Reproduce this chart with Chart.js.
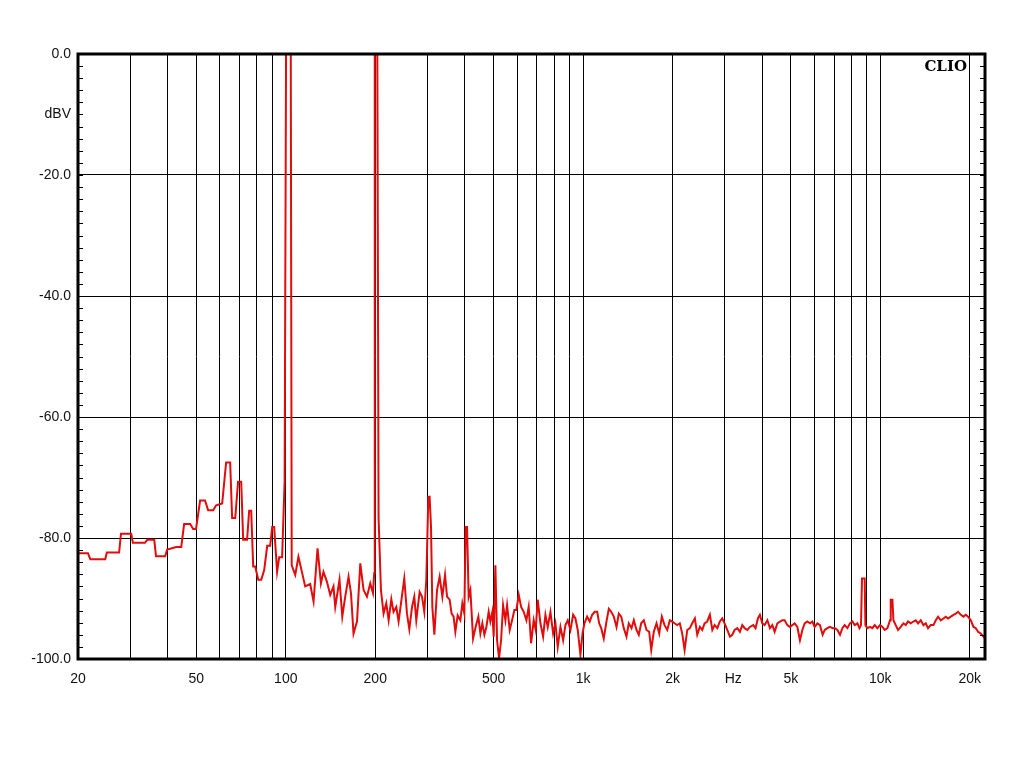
<!DOCTYPE html>
<html>
<head>
<meta charset="utf-8">
<title>CLIO spectrum</title>
<script src="https://cdn.jsdelivr.net/npm/chart.js@4.4.1/dist/chart.umd.min.js"></script>
<style>
  html, body { margin: 0; padding: 0; background: #fff; }
  #spectrumChart { display: block; }
</style>
</head>
<body>
<canvas id="spectrumChart" width="1024" height="768"></canvas>
<script>
// Frequency axis (Hz): grid lines and labels
const freqGrid = [20, 30, 40, 50, 60, 70, 80, 90, 100, 200, 300, 400, 500, 600, 700, 800, 900,
    1000, 2000, 3000, 3200, 4000, 5000, 6000, 7000, 8000, 9000, 10000, 20000];
const freqLabels = { 20: '20', 50: '50', 100: '100', 200: '200', 500: '500', 1000: '1k', 2000: '2k',
    3200: 'Hz', 5000: '5k', 10000: '10k', 20000: '20k' };

// Level axis (dBV)
const levelTicks = [-100, -90, -80, -70, -60, -50, -40, -30, -20, -10, 0];

const freqHz = [
    20, 21.6, 22.0, 24.7, 25.0, 27.5, 27.9, 30.2, 30.6, 33.6, 34.2, 36.1, 36.6, 39.3, 39.9, 42.8, 44.5,
    45.5, 47.7, 48.8, 49.9, 51.5, 53.5, 54.8, 57.0, 58.3, 61.1, 63.0, 65.0, 66.0, 67.6, 69.1, 70.8,
    71.9, 74.1, 75.3, 76.5, 77.7, 78.9, 80.8, 82.7, 84.6, 86.6, 88.6, 90.0, 91.4, 93.5, 95.0, 97.2,
    99.1, 100.3, 103.9, 104.7, 107.6, 110.3, 113.3, 116.2, 120.8, 124.0, 127.9, 131.3, 133.9, 137.5,
    141.1, 144.7, 146.7, 151.6, 154.9, 158.5, 162.6, 165.7, 169.0, 173.6, 178.1, 182.7, 187.5, 192.4,
    196.5, 198.4, 199.2, 203.1, 205.2, 209.0, 213.3, 217.8, 221.8, 226.5, 230.4, 235.4, 239.6, 244.1,
    250.4, 255.7, 260.4, 265.9, 270.6, 274.8, 282.0, 287.3, 292.4, 297.0, 301.7, 304.7, 308.0, 311.2,
    316.1, 322.7, 329.3, 336.3, 343.4, 348.7, 355.8, 361.3, 366.9, 371.9, 378.6, 386.6, 392.6, 398.8,
    402.8, 407.2, 412.3, 417.8, 426.6, 435.2, 444.5, 451.5, 458.5, 465.7, 473.0, 481.5, 487.8, 495.4,
    500.4, 507.1, 513.8, 521.8, 530.0, 538.3, 548.0, 555.2, 566.6, 577.2, 587.6, 596.8, 607.6, 619.0,
    631.5, 644.8, 656.4, 668.6, 682.3, 693.0, 703.8, 718.8, 733.8, 747.2, 760.6, 776.8, 793.2, 807.4,
    822.0, 839.4, 857.0, 872.4, 888.2, 907.0, 926.2, 942.8, 959.8, 980.0, 995.6, 1011, 1032, 1053,
    1073, 1095, 1116, 1133, 1151, 1174, 1199, 1221, 1244, 1269, 1296, 1319, 1344, 1371, 1400, 1425,
    1456, 1482, 1513, 1540, 1569, 1601, 1635, 1669, 1696, 1730, 1767, 1804, 1841, 1880, 1920, 1959,
    1995, 2031, 2074, 2116, 2156, 2196, 2242, 2287, 2330, 2378, 2422, 2472, 2518, 2563, 2617, 2671,
    2722, 2771, 2829, 2886, 2940, 2993, 3056, 3120, 3178, 3235, 3304, 3370, 3433, 3496, 3570, 3642,
    3738, 3805, 3874, 3935, 4009, 4082, 4169, 4253, 4333, 4411, 4505, 4597, 4683, 4767, 4868, 4967,
    5059, 5150, 5259, 5366, 5467, 5566, 5683, 5799, 5907, 6014, 6141, 6266, 6399, 6500, 6637, 6771,
    6914, 7039, 7171, 7317, 7454, 7588, 7748, 7907, 8057, 8202, 8376, 8506, 8611, 8678, 8861, 8909,
    9048, 9232, 9405, 9574, 9777, 9977, 10166, 10349, 10568, 10782, 10840, 10983, 11068, 11267, 11471,
    11714, 11960, 12176, 12396, 12656, 12924, 13160, 13396, 13677, 13968, 14220, 14476, 14782, 15096,
    15367, 15644, 15975, 16310, 16606, 16906, 17260, 17626, 17946, 18268, 18654, 19048, 19388, 19740,
    20158, 20582, 20952, 21328, 21778, 22240, 22500
];
const levelDbv = [
    -82.5, -82.5, -83.5, -83.5, -82.4, -82.4, -79.3, -79.3, -80.8, -80.8, -80.3, -80.3, -83.0, -83.0, -81.9, -81.5, -81.5,
    -77.7, -77.7, -78.5, -78.5, -73.8, -73.8, -75.4, -75.4, -74.6, -74.3, -67.5, -67.5, -76.7, -76.7, -70.7, -70.7,
    -80.3, -80.3, -75.5, -75.5, -84.7, -84.7, -86.9, -86.9, -85.3, -81.3, -81.3, -78.2, -78.2, -85.6, -83.2, -83.2,
    -70.7, 5, 5, -84.5, -86.1, -83.1, -85.6, -88.0, -87.6, -90.5, -81.7, -87.5, -85.6, -87.2,
    -89.4, -88.0, -91.4, -86.9, -93.0, -89.7, -86.4, -89.1, -95.8, -93.8, -84.2, -88.6, -89.7, -87.5,
    -89.1, -85.8, 5, 5, -76.7, -88.6, -92.5, -90.8, -93.6, -90.1, -92.2, -91.4, -93.8, -90.8,
    -86.7, -92.5, -95.1, -91.4, -89.7, -93.6, -88.9, -89.7, -92.2, -86.9, -73.2, -73.2, -78.1, -91.4,
    -96.0, -88.6, -86.4, -89.7, -86.1, -89.7, -90.2, -92.5, -93.0, -95.5, -92.8, -93.6, -90.8, -92.5,
    -78.2, -78.2, -89.7, -88.6, -96.6, -94.7, -93.0, -95.8, -94.1, -96.0, -94.7, -92.2, -93.8, -92.2,
    -96.3, -84.5, -96.9, -99.9, -96.9, -91.1, -93.6, -91.1, -95.2, -93.6, -91.9, -91.9, -89.4, -91.4,
    -92.2, -93.6, -91.4, -97.4, -93.6, -95.2, -90.2, -94.1, -96.3, -92.7, -94.7, -92.2, -95.8, -94.1,
    -98.0, -94.7, -96.9, -94.4, -93.6, -95.2, -92.7, -93.3, -95.2, -99.3, -95.8, -94.1, -93.0, -93.8,
    -92.7, -92.2, -92.2, -94.1, -94.9, -96.6, -93.8, -91.7, -92.2, -93.0, -94.7, -92.5, -93.0, -94.9, -96.3, -94.1,
    -94.9, -93.6, -95.2, -96.0, -94.1, -93.6, -95.2, -95.5, -98.5, -95.5, -94.1, -95.8, -93.0, -94.4, -95.2, -93.6,
    -93.8, -94.1, -94.4, -94.1, -95.8, -98.5, -95.2, -94.9, -94.1, -93.3, -96.0, -94.7, -95.2, -94.1, -93.8, -92.7,
    -95.2, -94.4, -94.9, -93.8, -93.3, -94.1, -95.2, -96.3, -96.0, -95.2, -94.9, -95.5, -94.4, -94.9, -95.2, -94.7,
    -94.4, -94.9, -93.3, -92.7, -94.1, -94.4, -93.6, -94.9, -94.4, -95.5, -94.1, -93.8, -93.6, -93.6, -94.4, -94.7,
    -94.4, -94.1, -94.7, -96.9, -95.2, -94.1, -93.8, -94.1, -93.8, -94.7, -94.1, -94.4, -96.0, -95.2, -94.9, -94.7,
    -94.9, -94.9, -95.2, -96.0, -94.9, -94.4, -94.9, -94.1, -93.8, -94.4, -94.1, -94.9, -94.4, -86.7, -86.7, -94.4,
    -94.9, -94.7, -94.9, -94.4, -94.9, -94.4, -94.7, -95.2, -94.9, -93.6, -90.2, -90.2, -93.6, -94.4, -95.2,
    -94.7, -94.1, -94.4, -93.8, -94.1, -93.8, -93.6, -94.1, -93.6, -94.4, -94.1, -94.9, -94.4, -94.4,
    -93.6, -93.0, -93.6, -93.3, -93.0, -93.3, -93.0, -92.7, -92.5, -92.2, -92.7, -93.0, -92.7, -93.0,
    -93.6, -94.7, -94.9, -95.5, -95.8, -96.3, -96.6
];

const spectrumPoints = freqHz.map((f, i) => ({ x: f, y: levelDbv[i] }));

// Frame, 2 dB minor ticks inside both vertical borders, CLIO mark
const clioFrame = {
    id: 'clioFrame',
    afterDatasetsDraw(chart) {
        const { ctx, chartArea, scales } = chart;
        const y = scales.y;
        ctx.save();
        ctx.strokeStyle = '#000';
        ctx.lineWidth = 1;
        ctx.beginPath();
        for (let v = -100; v <= 0; v += 2) {
            const py = Math.round(y.getPixelForValue(v)) + 0.5;
            ctx.moveTo(chartArea.left, py);
            ctx.lineTo(chartArea.left + 5, py);
            ctx.moveTo(chartArea.right - 5, py);
            ctx.lineTo(chartArea.right, py);
        }
        ctx.stroke();

        ctx.lineWidth = 3;
        ctx.strokeRect(chartArea.left, chartArea.top, chartArea.right - chartArea.left, chartArea.bottom - chartArea.top);

        ctx.fillStyle = '#000';
        ctx.font = "bold 15px 'DejaVu Serif'";
        ctx.textAlign = 'right';
        ctx.textBaseline = 'alphabetic';
        ctx.fillText('CLIO', chartArea.right - 18, chartArea.top + 17);
        ctx.restore();
    }
};

document.addEventListener('DOMContentLoaded', function() {
    const ctx = document.getElementById('spectrumChart').getContext('2d');
    const spectrumChart = new Chart(ctx, {
        type: 'line',
        data: {
            datasets: [{
                data: spectrumPoints,
                borderColor: 'rgb(225, 12, 12)',
                borderWidth: 2,
                pointRadius: 0,
                tension: 0,
                fill: false
            }]
        },
        options: {
            responsive: false,
            animation: false,
            layout: { padding: { top: 54, right: 39, left: 0, bottom: 0 } },
            plugins: {
                legend: { display: false },
                tooltip: { enabled: false }
            },
            scales: {
                x: {
                    type: 'logarithmic',
                    min: 20,
                    max: 22500,
                    afterBuildTicks: function(scale) {
                        scale.ticks = freqGrid.map(v => ({ value: v }));
                    },
                    afterFit: function(scale) { scale.height = 109; },
                    grid: {
                        color: c => (c.tick && c.tick.value === 3200) ? 'rgba(0,0,0,0)' : '#000',
                        lineWidth: 1,
                        drawTicks: false
                    },
                    border: { display: false },
                    ticks: {
                        autoSkip: false,
                        maxRotation: 0,
                        padding: 12,
                        color: '#111',
                        font: { family: "'Liberation Sans', Arial, sans-serif", size: 14 },
                        callback: function(value) {
                            return freqLabels[value] || '';
                        }
                    }
                },
                y: {
                    min: -100,
                    max: 0,
                    afterBuildTicks: function(scale) {
                        scale.ticks = levelTicks.map(v => ({ value: v }));
                    },
                    afterFit: function(scale) { scale.width = 78; },
                    grid: {
                        color: c => (c.tick && c.tick.value % 20 === 0) ? '#000' : 'rgba(0,0,0,0)',
                        lineWidth: 1,
                        drawTicks: false
                    },
                    border: { display: false },
                    ticks: {
                        autoSkip: false,
                        padding: 7,
                        color: '#111',
                        font: { family: "'Liberation Sans', Arial, sans-serif", size: 14 },
                        callback: function(value) {
                            if (value % 20 === 0) return value.toFixed(1);
                            if (value === -10) return 'dBV';
                            return '';
                        }
                    }
                }
            }
        },
        plugins: [clioFrame]
    });
});
</script>
</body>
</html>
